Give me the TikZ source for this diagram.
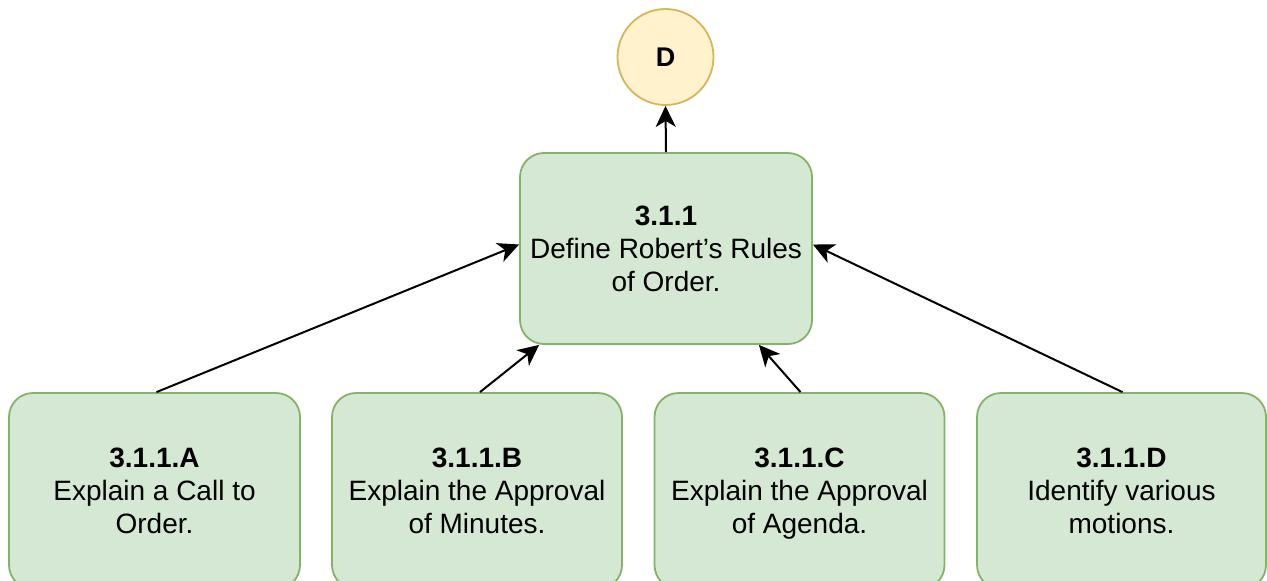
\documentclass[tikz,border=0pt]{standalone}
\usepackage{fontspec}
\setmainfont{Liberation Sans}
\usetikzlibrary{arrows.meta,calc}
\definecolor{boxfill}{HTML}{D5E8D4}
\definecolor{boxline}{HTML}{82B366}
\definecolor{circfill}{HTML}{FFF2CC}
\definecolor{circline}{HTML}{D6B656}
\tikzset{
  goal/.style={draw=boxline, fill=boxfill, line width=1.8pt, rounded corners=24pt,
    inner sep=0pt, align=center, text depth=0pt, font=\fontsize{28}{33}\selectfont},
  mark circle/.style={circle, draw=circline, fill=circfill, line width=1.8pt,
    minimum size=96pt, inner sep=0pt, font=\fontsize{27}{30}\selectfont\bfseries},
  link/.style={line width=2pt, -{Stealth[length=21pt,width=20pt,inset=6pt]}}
}
\begin{document}
\begin{tikzpicture}[x=1pt,y=-1pt]
  \useasboundingbox (0,0) rectangle (1267,581);
  \clip (0,0) rectangle (1267,581);
  % top marker
  \node[mark circle] (d) at (665.5,57) {D};
  % central objective
  \node[goal, minimum width=292pt, minimum height=191pt] (c) at (666,248.5)
    {\textbf{3.1.1}\\Define Robert{\char39}s Rules\\of Order.};
  % supporting objectives (bottoms run past the page edge)
  \node[goal, minimum width=291pt, minimum height=196pt] (a) at (154.5,491)
    {\textbf{3.1.1.A}\\Explain a Call to\\Order.};
  \node[goal, minimum width=290pt, minimum height=196pt] (b) at (477,491)
    {\textbf{3.1.1.B}\\Explain the Approval\\of Minutes.};
  \node[goal, minimum width=290pt, minimum height=196pt] (cc) at (799.5,491)
    {\textbf{3.1.1.C}\\Explain the Approval\\of Agenda.};
  \node[goal, minimum width=289pt, minimum height=196pt] (dd) at (1121.5,491)
    {\textbf{3.1.1.D}\\Identify various\\motions.};
  % connectors
  \draw[link] (c.north) -- (d.south);
  \draw[link] ([xshift=2pt]a.north) -- ([yshift=4pt]c.west);
  \draw[link] ([xshift=3pt]b.north) -- ([xshift=20pt]c.south west);
  \draw[link] ([xshift=1pt]cc.north) -- ([xshift=-54pt]c.south east);
  \draw[link] ([xshift=1pt]dd.north) -- ([yshift=4pt]c.east);
\end{tikzpicture}
\end{document}
